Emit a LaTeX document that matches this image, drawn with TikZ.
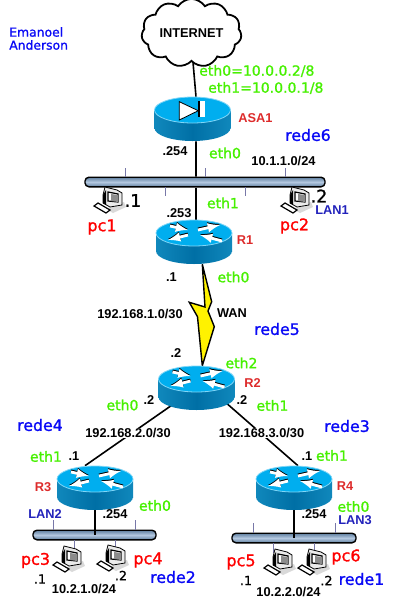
\documentclass[tikz,border=0pt]{standalone}
\usepackage{fontspec}
\setmainfont[FakeBold=1.2]{DejaVu Sans}
\newfontfamily\boldlabel{Liberation Sans}
\usetikzlibrary{shapes.symbols}
\definecolor{netgreen}{HTML}{46F000}
\definecolor{netblue}{HTML}{0A0AF5}
\definecolor{lanblue}{HTML}{2222BB}
\definecolor{unitred}{HTML}{DD2B2B}
\definecolor{topblue}{HTML}{00AEEF}
\definecolor{sideblue}{HTML}{006FA5}
\definecolor{edgeblue}{HTML}{1088BC}
\definecolor{tickgray}{HTML}{7878A8}
\definecolor{buslight}{HTML}{B4C8E0}
\definecolor{busdark}{HTML}{5F7F9F}
\begin{document}
\begin{tikzpicture}[x=.025cm,y=-.025cm,
    every node/.style={inner sep=0pt},
    unit node/.style={minimum width=1.9cm,minimum height=1.1cm},
    bus node/.style={draw,line width=.035cm,rounded corners=.1cm,minimum height=.24cm,
      top color=busdark,bottom color=busdark,middle color=buslight},
    link/.style={line width=.04cm},
    tick/.style={tickgray,line width=.02cm},
    net/.style={font=\fontsize{9.96pt}{10pt}\selectfont,text=netgreen},
    rede/.style={font=\fontsize{11.2pt}{12pt}\selectfont,text=netblue},
    pc name/.style={font=\fontsize{11.4pt}{12pt}\selectfont,text=red},
    host/.style={font=\fontsize{9pt}{10pt}\selectfont},
    big host/.style={font=\fontsize{12.4pt}{13pt}\selectfont},
    addr/.style={font=\boldlabel\bfseries\fontsize{9.1pt}{10pt}\selectfont},
    lan/.style={addr,text=lanblue},
    unit name/.style={addr,text=unitred},
    arrow line/.style={white,line width=.07cm,-latex},
    arrow shade/.style={black,line width=.07cm,-latex},
    unit body/.pic={
      \path[left color=edgeblue,right color=edgeblue,middle color=sideblue]
        (0,9) ellipse [x radius=38,y radius=13];
      \path[left color=edgeblue,right color=edgeblue,middle color=sideblue]
        (-38,-9) rectangle (38,9);
      \draw[fill=topblue,draw=topblue!50!white,line width=.02cm]
        (0,-9) ellipse [x radius=38,y radius=13];
    },
    router/.pic={
      \pic {unit body};
      \foreach \fx/\fy/\tx/\ty in {-24/-16/-6/-12,4/-12/26/-17,-6/-7/-26/-2,28/-1/6/-7} {
        \draw[arrow shade] (\fx,\fy-1) -- (\tx,\ty-1);
        \draw[arrow line] (\fx,\fy) -- (\tx,\ty);
      }
    },
    firewall/.pic={
      \pic {unit body};
      \draw[fill=white,line width=.02cm] (-13.2,-17.3) -- (-13.2,1) -- (5.8,-8.3) -- cycle;
      \fill[black] (5.8,-18) rectangle (7,-1.7);
      \fill[white] (7,-18) rectangle (12.5,-1.7);
    },
    computer/.pic={
      \fill[black!15] (-4,9) -- (14,2) -- (16,7) -- (3,13) -- cycle;
      \draw[fill=black!8,line width=.02cm] (-5,-13) -- (7,-10) -- (12,-7) -- (12,5) -- (0,7)
        -- (-7,3) -- (-7,-5) -- cycle;
      \fill[black] (-7,-5) -- (-4,-10) -- (-4,5) -- (-7,3) -- cycle;
      \draw[fill=white,line width=.03cm] (-2,-8) -- (8,-6) -- (8,2) -- (-2,1) -- cycle;
      \fill[black!45] (1,-6) -- (8,-5) -- (8,2) -- (1,1) -- cycle;
      \draw[fill=white,line width=.03cm] (-16,6) -- (-12,3) -- (0,10) -- (-4,13) -- cycle;
    }]
    \useasboundingbox (0,0) rectangle (400,600);
    % buses first, then the links, then the units on top
    \node[bus node,minimum width=6cm] (bus1) at (205,182) {};
    \node[bus node,minimum width=3.075cm] (bus2) at (94.5,535) {};
    \node[bus node,minimum width=3.1cm] (bus3) at (294,538) {};
    \draw[tick] (125,168) -- (125,177) (205,168) -- (205,177) (285,168) -- (285,177)
      (165,187) -- (165,196) (245,187) -- (245,196);
    \draw[tick] (53,520) -- (53,530) (135,520) -- (135,530) (74,540) -- (74,549) (115,540) -- (115,549);
    \draw[tick] (253,523) -- (253,533) (335,523) -- (335,533) (273,543) -- (273,553) (314,543) -- (314,553);

    \node[cloud,draw,line width=.045cm,cloud puffs=11,cloud puff arc=115,aspect=1.6,
      minimum width=2.5cm,minimum height=1.5cm,font=\boldlabel\bfseries\fontsize{9.1pt}{10pt}\selectfont]
      (internet) at (191.5,33) {INTERNET};
    \node[unit node,minimum width=1.975cm] (ASA1) at (192.5,119) {};
    \node[unit node] (R1) at (194,242) {};
    \node[unit node] (R2) at (196.5,388) {};
    \node[unit node] (R3) at (95,488) {};
    \node[unit node] (R4) at (294,488) {};

    \draw[link] ([shift={(1.5,0)}]internet.south) -- ([shift={(3.5,0)}]ASA1.north);
    \draw[link] ([shift={(3.5,0)}]ASA1.south) -- ([shift={(-9,0)}]bus1.north);
    \draw[link] ([shift={(-9,0)}]bus1.south) -- ([shift={(2,0)}]R1.north);
    \draw[link] (R2.center) -- ([shift={(-10,0)}]R3.north);
    \draw[link] ([shift={(0,-11)}]R2.center) -- ([shift={(4,0)}]R4.north);
    \draw[link] (R3.south) -- (R3.south |- bus2.center);
    \draw[link] (R4.south) -- (R4.south |- bus3.center);
    \draw[fill=yellow,line width=.035cm] ([shift={(8.3,0)}]R1.south) -- (211.7,301.7) -- (208,311)
      -- (214.3,326.7) -- ([shift={(5.8,0)}]R2.north) -- (197.5,316.7) -- (189.3,302.3) -- (205,307) -- cycle;

    \pic at (ASA1) {firewall};
    \pic at (R1) {router};
    \pic at (R2) {router};
    \pic at (R3) {router};
    \pic at (R4) {router};
    \pic at (110,200) {computer};
    \pic at (297,200) {computer};
    \pic at (69,559) {computer};
    \pic at (113,558) {computer};
    \pic at (280,562) {computer};
    \pic at (314,562) {computer};

    \node[anchor=west,font=\fontsize{8.8pt}{10pt}\selectfont,text=netblue] (author1) at (9,32) {Emanoel};
    \node[anchor=west,font=\fontsize{8.8pt}{10pt}\selectfont,text=netblue] (author2) at (9,45) {Anderson};
    \node[net,anchor=west] (asaout) at (199,71) {eth0=10.0.0.2/8};
    \node[net,anchor=west] (asain) at (208,88) {eth1=10.0.0.1/8};
    \node[unit name] (nameASA) at (255.5,118.5) {ASA1};
    \node[unit name] (nameR1) at (245,240) {R1};
    \node[unit name] (nameR2) at (252.5,383) {R2};
    \node[unit name] (nameR3) at (43,487) {R3};
    \node[unit name] (nameR4) at (345,486) {R4};
    \node[rede] (rede6) at (308,135) {rede6};
    \node[rede] (rede5) at (277,329) {rede5};
    \node[rede] (rede4) at (40,425) {rede4};
    \node[rede] (rede3) at (347,426) {rede3};
    \node[rede] (rede2) at (173,577) {rede2};
    \node[rede] (rede1) at (361.5,579) {rede1};
    \node[net] (e1) at (225,153) {eth0};
    \node[net] (e2) at (223,203) {eth1};
    \node[net] (e3) at (233.5,277) {eth0};
    \node[net] (e4) at (241.5,363) {eth2};
    \node[net] (e5) at (122.5,405) {eth0};
    \node[net] (e6) at (272.5,405.5) {eth1};
    \node[net] (e7) at (46,456.5) {eth1};
    \node[net] (e8) at (155,505.5) {eth0};
    \node[net] (e9) at (332,455.5) {eth1};
    \node[net] (e10) at (353.5,506.5) {eth0};
    \node[addr] (a1) at (175,151) {.254};
    \node[addr] (a2) at (283.5,161) {10.1.1.0/24};
    \node[addr] (a3) at (179,213) {.253};
    \node[addr] (a4) at (171.5,277) {.1};
    \node[addr] (a5) at (140,314) {192.168.1.0/30};
    \node[addr] (a6) at (232,313) {WAN};
    \node[addr] (a7) at (176,353) {.2};
    \node[addr] (a8) at (149,400.5) {.2};
    \node[addr] (a9) at (242,400) {.2};
    \node[addr,fill=white] (a10) at (128,433) {192.168.2.0/30};
    \node[addr,fill=white] (a11) at (261.5,433) {192.168.3.0/30};
    \node[addr] (a12) at (74,456) {.1};
    \node[addr] (a13) at (307,456.5) {.1};
    \node[addr] (a14) at (115,514) {.254};
    \node[addr] (a15) at (314,514) {.254};
    \node[addr] (a16) at (84,589) {10.2.1.0/24};
    \node[addr] (a17) at (288.5,591.5) {10.2.2.0/24};
    \node[lan] (lan1) at (332,210) {LAN1};
    \node[lan] (lan2) at (45,514) {LAN2};
    \node[lan] (lan3) at (355,520.5) {LAN3};
    \node[pc name] (pc1) at (102,227) {pc1};
    \node[pc name] (pc2) at (294.5,226) {pc2};
    \node[pc name] (pc3) at (35.5,560.5) {pc3};
    \node[pc name] (pc4) at (148,560) {pc4};
    \node[pc name] (pc5) at (241,562) {pc5};
    \node[pc name] (pc6) at (346,557) {pc6};
    \node[big host] (h1) at (133,200.5) {.1};
    \node[big host] (h2) at (319,196) {.2};
    \node[host] (h3) at (40,579) {.1};
    \node[host] (h4) at (121,575.5) {.2};
    \node[host] (h5) at (246,580.5) {.1};
    \node[host] (h6) at (326.5,580.5) {.2};
  \end{tikzpicture}
\end{document}
